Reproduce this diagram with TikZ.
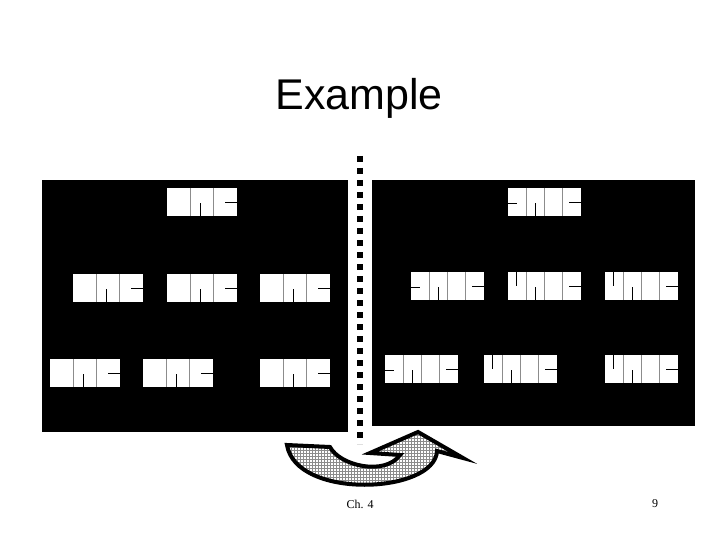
\documentclass[tikz,border=0pt]{standalone}
\usepackage{fontspec}
\setmainfont{Liberation Serif}
\newfontfamily\titlefont{Liberation Sans}
\usetikzlibrary{patterns}

\begin{document}
\begin{tikzpicture}[
  x=1pt, y=-1pt,
  panel/.style={fill=black, draw=none},
  cellrow/.style={fill=white, draw=none, inner sep=0pt, outer sep=0pt, minimum height=28pt},
  sep/.style={draw=black!45, line width=0.6pt},
  wall/.style={draw=black, line width=0.9pt},
  divider/.style={draw=black, line width=6pt, dash pattern=on 6pt off 6pt},
  turn/.style={draw=black, line width=4pt, line join=miter,
    preaction={fill=white}, pattern=grid, pattern color=black!45},
]
\useasboundingbox (0,0) rectangle (720,540);

% ---------- Cell rows ----------
% three cells: plain, wall from below, wall from the right
\newcommand{\threecell}[2]{%
  \begin{scope}[shift={(#1)}]
    \node[cellrow, minimum width=70pt, anchor=north west] (#2) at (0,0) {};
    \draw[sep] (23.3,0) -- (23.3,28);
    \draw[sep] (46.7,0) -- (46.7,28);
    \draw[wall] (33,28) -- (33,15);   % cell 2
    \draw[wall] (58,14) -- (70,14);   % cell 3
  \end{scope}
}
% four cells: #3 is the wall of cell 1
\newcommand{\fourcell}[3]{%
  \begin{scope}[shift={(#1)}]
    \node[cellrow, minimum width=73pt, anchor=north west] (#2) at (0,0) {};
    \draw[sep] (18.25,0) -- (18.25,28);
    \draw[sep] (36.5,0) -- (36.5,28);
    \draw[sep] (54.75,0) -- (54.75,28);
    \draw[wall] #3;                   % cell 1
    \draw[wall] (27,28) -- (27,15);   % cell 2
    \draw[wall] (61,14) -- (73,14);   % cell 4
  \end{scope}
}

% ---------- Title ----------
\node[font=\titlefont\fontsize{43}{50}\selectfont, anchor=base] (title) at (359,110) {Example};

% ---------- Left panel ----------
\fill[panel] (42,180) rectangle (348,432);
\threecell{167,188}{la}
\threecell{73,274}{lb}
\threecell{167,274}{lc}
\threecell{260,274}{ld}
\threecell{50,359}{le}
\threecell{143,359}{lf}
\threecell{260,359}{lg}

% ---------- Right panel ----------
\fill[panel] (372,180) rectangle (695,426);
\fourcell{508,188}{ra}{(0,15) -- (9,15)}
\fourcell{411,272}{rb}{(0,15) -- (9,15)}
\fourcell{508,272}{rc}{(8,0) -- (8,14)}
\fourcell{605,272}{rd}{(8,0) -- (8,14)}
\fourcell{385,355}{re}{(0,15) -- (9,15)}
\fourcell{484,355}{rf}{(8,0) -- (8,14)}
\fourcell{605,355}{rg}{(8,0) -- (8,14)}

% ---------- Divider ----------
\coordinate (divtop) at (360,156);
\coordinate (divbot) at (360,444);
\draw[divider] (divtop) -- (divbot);

% ---------- Turn arrow ----------
\coordinate (tailtop) at (287,445);
\coordinate (tailin)  at (330,447);
\coordinate (wingl)   at (370,453);
\coordinate (tip)     at (418,432);
\coordinate (wingr)   at (463,458);
\draw[turn] (tailtop) -- (tailin)
  .. controls (340,466) and (385,476) .. (400,455)
  -- (wingl) -- (tip) -- (wingr) -- (437,451)
  .. controls (435,494) and (296,500) .. (tailtop) -- cycle;

% ---------- Footer ----------
\node[font=\fontsize{12}{14}\selectfont] (chap) at (360,504) {Ch. 4};
\node[font=\fontsize{12}{14}\selectfont] (page) at (655,504) {9};
\end{tikzpicture}
\end{document}
